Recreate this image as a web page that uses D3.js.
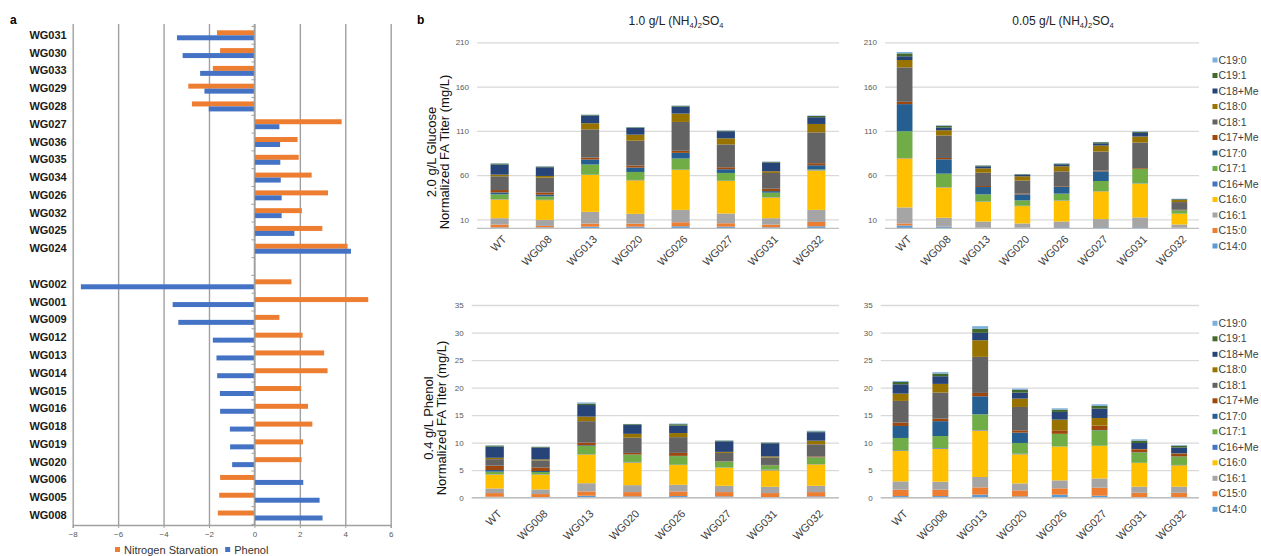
<!DOCTYPE html>
<html>
<head>
<meta charset="utf-8">
<script src="https://cdn.jsdelivr.net/npm/d3@7"></script>
<style>
  body { margin: 0; background: #fff; }
  svg { display: block; font-family: Arial, "Liberation Sans", sans-serif; }
</style>
</head>
<body>
<svg id="fig" width="1261" height="556"></svg>
<script>
// ---------- Panel a: relative change per knockout strain ----------
const strainsA = ["WG031","WG030","WG033","WG029","WG028","WG027","WG036","WG035","WG034","WG026","WG032","WG025","WG024",
                  "",
                  "WG002","WG001","WG009","WG012","WG013","WG014","WG015","WG016","WG018","WG019","WG020","WG006","WG005","WG008"];
const nitrogenStarvation = [-1.65,-1.51,-1.83,-2.91,-2.75,3.84,1.90,1.95,2.52,3.24,2.09,2.99,4.10,
                            null,
                            1.63,5.01,1.10,2.12,3.07,3.22,2.06,2.36,2.55,2.14,2.08,-1.51,-1.55,-1.61];
const phenol = [-3.41,-3.16,-2.39,-2.20,-2.01,1.10,1.13,1.14,1.16,1.20,1.20,1.76,4.25,
                null,
                -7.64,-3.60,-3.35,-1.83,-1.67,-1.64,-1.52,-1.51,-1.08,-1.07,-0.98,2.15,2.87,3.00];
const ticksA = [-8,-6,-4,-2,0,2,4,6];
const seriesA = ["Nitrogen Starvation","Phenol"];
const colorsA = ["#ED7D31","#4472C4"];

// ---------- Panel b: fatty acid titers ----------
const strainsB = ["WT","WG008","WG013","WG020","WG026","WG027","WG031","WG032"];
const fattyAcids = ["C14:0","C15:0","C16:1","C16:0","C16+Me","C17:1","C17:0","C17+Me","C18:1","C18:0","C18+Me","C19:1","C19:0"];
const faColors = ["#5B9BD5","#ED7D31","#A5A5A5","#FFC000","#4472C4","#70AD47","#255E91","#9E480E","#636363","#997300","#264478","#43682B","#7CAFDD"];
const glucoseTicks = [10,60,110,160,210];
const phenolTicks = [0,5,10,15,20,25,30,35];

// rows: strains in strainsB order, columns: fattyAcids order (mg/L)
const glucoseHighN = [
  [1.0,3.2,7.2,21.2,0.4,5.3,2.2,2.7,15.5,1.9,11.4,1.1,0.4],
  [1.0,1.7,6.8,22.3,0.4,3.8,1.9,2.6,16.7,1.9,9.8,0.8,0.3],
  [1.9,3.4,13.3,41.6,0.4,11.4,5.7,2.2,31.8,6.9,8.7,0.7,0.4],
  [1.9,3.4,11.0,37.9,0.4,9.0,5.0,2.2,28.1,6.8,7.6,0.7,0.4],
  [2.3,4.5,14.0,45.1,0.4,12.5,6.4,2.3,32.6,9.4,8.0,0.8,0.3],
  [1.9,3.8,11.0,36.7,0.4,8.7,4.2,2.2,25.8,6.8,8.0,0.7,0.4],
  [1.1,3.1,7.2,23.4,0.4,5.0,1.8,2.7,17.8,1.9,9.8,0.8,0.4],
  [2.3,4.9,13.6,44.4,0.4,0.8,4.8,2.3,34.8,9.5,7.6,1.5,0.4]
];
const glucoseLowN = [
  [3.2,2.3,18.1,55.4,0.4,30.2,30.6,2.6,38.9,8.3,4.2,3.3,1.5],
  [1.7,0.2,10.0,34.3,0.4,15.1,16.2,1.5,25.3,6.1,3.0,1.9,0.7],
  [0.9,0.3,6.5,22.3,0.4,7.9,8.3,1.1,15.1,4.9,2.3,0.8,0.3],
  [0.5,0.2,4.8,19.6,0.4,6.0,6.8,0.8,14.7,4.9,1.5,0.8,0.3],
  [1.3,0.2,6.2,23.4,0.4,7.6,7.9,0.7,16.6,5.7,2.3,0.7,0.4],
  [1.3,0.2,8.9,31.3,0.3,11.4,10.9,0.8,21.5,6.8,2.6,1.2,0.3],
  [1.3,0.2,10.8,38.1,0.4,16.2,0.3,0.8,28.7,6.8,4.1,1.2,0.7],
  [0.4,0.2,3.7,12.1,0.2,3.6,0.2,0.5,8.7,2.3,0.7,0.4,0.4]
];
const phenolHighN = [
  [0.18,0.66,0.84,2.52,0.05,0.48,0.30,0.78,1.19,0.25,2.03,0.18,0.06],
  [0.10,0.56,0.84,2.69,0.06,0.42,0.18,0.65,1.27,0.18,2.15,0.12,0.06],
  [0.36,0.78,1.49,5.21,0.06,1.50,0.12,0.48,3.90,0.83,2.10,0.27,0.20],
  [0.24,0.78,1.26,4.12,0.10,1.30,0.05,0.29,2.76,0.70,1.60,0.15,0.05],
  [0.30,0.84,1.20,3.59,0.07,1.55,0.05,0.54,2.86,0.74,1.36,0.25,0.12],
  [0.24,0.78,1.14,3.29,0.05,1.03,0.02,0.05,1.54,0.18,1.92,0.12,0.06],
  [0.12,0.72,1.14,2.99,0.13,0.77,0.03,0.05,1.35,0.20,2.38,0.12,0.06],
  [0.24,0.78,1.14,3.89,0.05,1.20,0.05,0.15,2.20,0.66,1.54,0.14,0.12]
];
const phenolLowN = [
  [0.30,1.15,1.52,5.51,0.12,2.25,2.18,0.61,3.94,1.32,1.70,0.43,0.17],
  [0.30,1.15,1.45,6.00,0.13,2.17,2.70,0.46,4.74,1.57,1.39,0.49,0.25],
  [0.55,1.33,1.88,8.44,0.10,2.85,3.27,0.61,6.55,3.02,1.34,0.73,0.48],
  [0.24,1.09,1.27,5.28,0.12,1.94,1.88,0.42,4.24,1.52,1.10,0.48,0.24],
  [0.55,1.15,1.45,6.12,0.03,2.28,0.02,0.64,0.00,1.94,1.40,0.42,0.24],
  [0.36,1.46,1.68,5.90,0.05,2.79,0.06,0.80,0.00,1.38,1.70,0.49,0.30],
  [0.10,0.80,1.10,4.30,0.05,1.85,0.05,0.55,0.00,0.05,1.09,0.42,0.24],
  [0.10,0.80,1.10,3.88,0.07,1.50,0.05,0.50,0.00,0.05,1.05,0.35,0.13]
];

const svg = d3.select("#fig");

// ================= Panel a =================
(function drawPanelA() {
  const g = svg.append("g");
  const top = 24, bottom = 525;
  const x = d3.scaleLinear().domain([-8, 6]).range([72.7, 390.7]);
  const y = d3.scaleBand().domain(d3.range(strainsA.length)).range([26.4, 524.4])
              .paddingInner(0.44).paddingOuter(0.22);
  const sub = d3.scaleBand().domain([0, 1]).range([0, y.bandwidth()]);

  g.append("text").attr("x", 10).attr("y", 24).attr("font-size", 12).attr("font-weight", "bold").text("a");

  // vertical gridlines
  g.append("g").attr("transform", `translate(0,${bottom})`)
    .call(d3.axisBottom(x).tickValues(ticksA).tickSize(-(bottom - top)).tickFormat(""))
    .call(s => s.select(".domain").remove())
    .call(s => s.selectAll(".tick line").attr("stroke", "#a0a0a0").attr("stroke-width", 1.4));

  // bottom axis with labels
  g.append("g").attr("transform", `translate(0,${bottom})`)
    .call(d3.axisBottom(x).tickValues(ticksA).tickSize(3).tickPadding(3))
    .call(s => s.select(".domain").attr("stroke", "#a0a0a0").attr("stroke-width", 1.4))
    .call(s => s.selectAll(".tick line").attr("stroke", "#a0a0a0"))
    .call(s => s.selectAll(".tick text").attr("font-size", 8).attr("fill", "#595959").attr("font-family", null));

  // category labels
  g.append("g").attr("transform", `translate(${x(-8)},0)`)
    .call(d3.axisLeft(y).tickSize(0).tickPadding(6).tickFormat(i => strainsA[i]))
    .call(s => s.select(".domain").remove())
    .call(s => s.selectAll(".tick text").attr("font-size", 11).attr("font-weight", "bold")
      .attr("fill", "#1a1a1a").attr("font-family", null));

  // bars
  const rows = strainsA.map((s, i) => ({ i, v: [nitrogenStarvation[i], phenol[i]] }));
  const bars = g.append("g");
  rows.forEach(r => {
    r.v.forEach((v, k) => {
      if (v == null) return;
      bars.append("rect")
        .attr("x", Math.min(x(0), x(v)))
        .attr("width", Math.abs(x(v) - x(0)))
        .attr("y", y(r.i) + sub(k))
        .attr("height", sub.bandwidth())
        .attr("fill", colorsA[k]);
    });
  });

  // zero axis with category ticks
  g.append("line").attr("x1", x(0)).attr("x2", x(0)).attr("y1", top).attr("y2", bottom)
    .attr("stroke", "#a0a0a0").attr("stroke-width", 1.4);
  const bounds = d3.range(strainsA.length + 1).map(i => y.range()[0] + i * y.step());
  g.append("g").selectAll("line").data(bounds).join("line")
    .attr("x1", x(0) - 3).attr("x2", x(0) + 1).attr("y1", d => d).attr("y2", d => d)
    .attr("stroke", "#a0a0a0").attr("stroke-width", 1);

  // legend
  const leg = g.append("g").attr("transform", "translate(115,550)");
  let lx = 0;
  seriesA.forEach((name, k) => {
    leg.append("rect").attr("x", lx).attr("y", -3).attr("width", 5).attr("height", 5).attr("fill", colorsA[k]);
    const t = leg.append("text").attr("x", lx + 9).attr("y", 0).attr("dy", "0.35em")
      .attr("font-size", 11).attr("fill", "#333").text(name);
    lx += 9 + t.node().getComputedTextLength() + 7;
  });
})();

// ================= Panel b =================
svg.append("text").attr("x", 417).attr("y", 24).attr("font-size", 12).attr("font-weight", "bold").text("b");

function titleWithSub(parts, cx, cy) {
  const t = svg.append("text").attr("x", cx).attr("y", cy).attr("text-anchor", "middle")
    .attr("font-size", 12).attr("fill", "#222");
  parts.forEach(p => {
    const ts = t.append("tspan").text(p.t);
    if (p.sub) ts.attr("font-size", 7.5).attr("baseline-shift", "-3");
  });
}
const titleParts = n => [{t: n + " g/L (NH"}, {t: "4", sub: true}, {t: ")"}, {t: "2", sub: true}, {t: "SO"}, {t: "4", sub: true}];
titleWithSub(titleParts("1.0"), 676, 25);
titleWithSub(titleParts("0.05"), 1063, 25);

const panelsB = [
  { data: glucoseHighN, x0: 477, x1: 839, yb: 228.3, yt: 42.3, max: 210, ticks: glucoseTicks, labOff: 9,
    ytitle: ["2.0 g/L Glucose", "Normalized FA Titer (mg/L)"], ty: 152, tx: [431, 444] },
  { data: glucoseLowN, x0: 885, x1: 1199, yb: 228.3, yt: 42.3, max: 210, ticks: glucoseTicks, labOff: 9 },
  { data: phenolHighN, x0: 471.7, x1: 839, yb: 497.7, yt: 305, max: 35, ticks: phenolTicks, labOff: 14,
    ytitle: ["0.4 g/L Phenol", "Normalized FA Titer (mg/L)"], ty: 418, tx: [428, 441.5] },
  { data: phenolLowN, x0: 880.7, x1: 1199, yb: 497.7, yt: 305, max: 35, ticks: phenolTicks, labOff: 14 }
];

panelsB.forEach(p => {
  const g = svg.append("g");
  const x = d3.scaleBand().domain(strainsB).range([p.x0, p.x1]).paddingInner(0.6).paddingOuter(0.3);
  const y = d3.scaleLinear().domain([0, p.max]).range([p.yb, p.yt]);

  // gridlines + tick labels
  g.append("g").attr("transform", `translate(${p.x0},0)`)
    .call(d3.axisLeft(y).tickValues(p.ticks).tickSize(-(p.x1 - p.x0)).tickPadding(8))
    .call(s => s.select(".domain").remove())
    .call(s => s.selectAll(".tick line").attr("stroke", "#d9d9d9").attr("stroke-width", 1.3))
    .call(s => s.selectAll(".tick text").attr("font-size", 8).attr("fill", "#595959").attr("font-family", null));

  // stacked bars
  const rows = p.data.map((vals, i) => {
    const o = { strain: strainsB[i] };
    fattyAcids.forEach((f, k) => o[f] = vals[k]);
    return o;
  });
  const stacked = d3.stack().keys(fattyAcids)(rows);
  g.append("g").selectAll("g").data(stacked).join("g")
    .attr("fill", (d, k) => faColors[k])
    .selectAll("rect").data(d => d).join("rect")
      .attr("x", d => x(d.data.strain))
      .attr("width", x.bandwidth())
      .attr("y", d => y(d[1]))
      .attr("height", d => Math.max(0, y(d[0]) - y(d[1])));

  // baseline
  g.append("line").attr("x1", p.x0).attr("x2", p.x1).attr("y1", y(0)).attr("y2", y(0))
    .attr("stroke", "#bfbfbf").attr("stroke-width", 1.3);

  // rotated category labels
  g.append("g").attr("transform", `translate(0,${p.yb})`)
    .call(d3.axisBottom(x).tickSize(0).tickPadding(0))
    .call(s => s.select(".domain").remove())
    .call(s => s.selectAll(".tick text")
      .attr("font-size", 11).attr("fill", "#404040").attr("font-family", null)
      .attr("text-anchor", "end").attr("dy", "0.35em")
      .attr("transform", `translate(5,${p.labOff}) rotate(-45)`)
      .attr("y", 0));

  // y axis title
  if (p.ytitle) {
    p.ytitle.forEach((line, li) => {
      svg.append("text")
        .attr("transform", `translate(${p.tx[li]},${p.ty}) rotate(-90)`)
        .attr("text-anchor", "middle").attr("dy", "0.35em")
        .attr("font-size", 13).attr("fill", "#111").text(line);
    });
  }
});

// legends for the right-hand panels
[{ y0: 60 }, { y0: 323.3 }].forEach(L => {
  const items = fattyAcids.slice().reverse();
  const colors = faColors.slice().reverse();
  const lg = svg.append("g");
  items.forEach((name, i) => {
    const cy = L.y0 + i * 15.5;
    lg.append("rect").attr("x", 1212.5).attr("y", cy - 2.5).attr("width", 5).attr("height", 5).attr("fill", colors[i]);
    lg.append("text").attr("x", 1218.5).attr("y", cy).attr("dy", "0.35em")
      .attr("font-size", 10.5).attr("fill", "#404040").text(name);
  });
});
</script>
</body>
</html>
